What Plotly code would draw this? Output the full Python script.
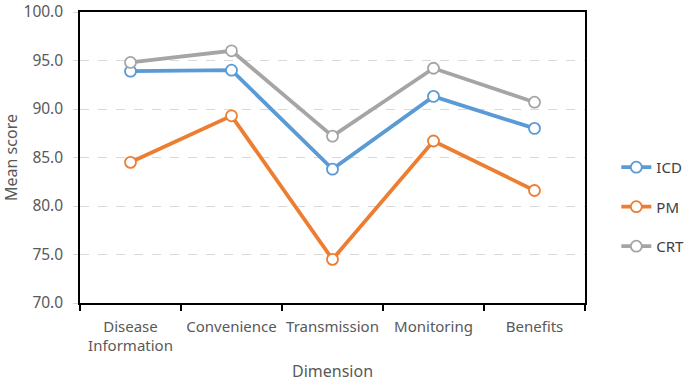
import plotly.graph_objects as go

categories = ["Disease<br>Information", "Convenience", "Transmission", "Monitoring", "Benefits"]
icd = [93.9, 94.0, 83.8, 91.3, 88.0]
pm = [84.5, 89.3, 74.5, 86.7, 81.6]
crt = [94.8, 96.0, 87.2, 94.2, 90.7]
y_ticks = [70, 75, 80, 85, 90, 95, 100]

series = [("ICD", icd, "#5B9BD5"), ("PM", pm, "#ED7D31"), ("CRT", crt, "#A5A5A5")]

fig = go.Figure()
for name, vals, col in series:
    fig.add_trace(go.Scatter(
        x=categories, y=vals, name=name, mode="lines+markers",
        legendgroup=name,
        line=dict(color=col, width=3.8),
        marker=dict(symbol="circle", size=11, color="white", line=dict(color=col, width=1.8)),
    ))

font = "Noto Sans"
fig.update_layout(
    width=685, height=382,
    margin=dict(l=80, r=100, t=12, b=79, autoexpand=False),
    plot_bgcolor="white", paper_bgcolor="white",
    font=dict(family=font, color="#595959", size=15),
    legend=dict(x=1.062, y=0.33, xanchor="left", yanchor="middle",
                font=dict(size=15, color="#404040"), tracegroupgap=17,
                itemwidth=30),
    xaxis=dict(
        type="category", range=[-0.5, 4.5], automargin=False, tickangle=0,
        showline=True, linecolor="black", linewidth=1.5, mirror=True,
        ticks="outside", tickson="boundaries", ticklen=6, tickcolor="black", tickwidth=1.5,
        showgrid=False, ticklabelstandoff=9,
        tickfont=dict(size=15, color="#595959"),
    ),
    yaxis=dict(
        range=[70, 100], tickvals=y_ticks, tickformat=".1f", automargin=False,
        showline=True, linecolor="black", linewidth=1.5, mirror=True,
        ticks="outside", ticklen=5, tickcolor="#D9D9D9",
        showgrid=True, gridcolor="#D9D9D9", griddash="dash", gridwidth=1.2,
        ticklabeloverflow="allow", ticklabelstandoff=7,
        tickfont=dict(size=15.5, color="#595959"),
        title=dict(text="Mean score", font=dict(size=16, color="#595959"), standoff=15),
        zeroline=False,
    ),
    annotations=[dict(text="Dimension", xref="paper", yref="paper", x=0.5,
                      y=-(371 - 303) / 291, xanchor="center", yanchor="middle",
                      showarrow=False, font=dict(size=16, color="#595959"))],
)

fig.write_html("out.html", config={"displayModeBar": False},
               post_script="document.body.style.margin='0';")
